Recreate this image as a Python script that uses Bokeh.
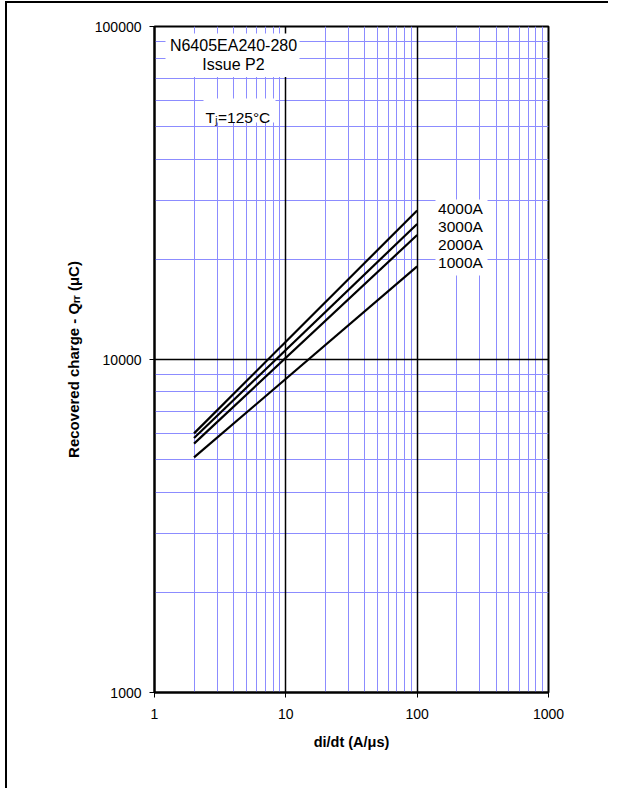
from bokeh.plotting import figure
from bokeh.models import FixedTicker, PrintfTickFormatter, Label, BoxAnnotation, Grid
from bokeh.embed import file_html
from bokeh.resources import INLINE

# ---- data ----
didt = [2, 100]                      # di/dt (A/us)
qrr_1000A = [5080, 19030]            # recovered charge (uC)
qrr_2000A = [5590, 23650]
qrr_3000A = [5810, 25530]
qrr_4000A = [6000, 28020]
series_labels = ["4000A", "3000A", "2000A", "1000A"]
x_ticks = [1, 10, 100, 1000]
y_ticks = [1000, 10000, 100000]

FONT = "Liberation Sans"

# frame in picture pixels; canvas origin placed at (7,3) via the styles below
FX0, FX1, FY0, FY1 = 154, 548, 26, 692
OX, OY = 7, 3

def px_x(px):
    return 10 ** (3 * (px - FX0) / (FX1 - FX0))

def px_y(py):
    return 10 ** (5 - 2 * (py - FY0) / (FY1 - FY0))

W, H = 603, 787
p = figure(width=W, height=H, x_axis_type="log", y_axis_type="log",
           x_range=(1, 1000), y_range=(1000, 100000),
           min_border_left=FX0 - OX, min_border_top=FY0 - OY,
           min_border_right=W - (FX1 - OX), min_border_bottom=H - (FY1 - OY),
           output_backend="svg", toolbar_location=None)
p.styles = {"margin-left": "5px", "margin-top": "1px",
            "border-top": "2px solid black", "border-left": "2px solid black"}

p.outline_line_color = "black"
p.outline_line_width = 2
p.background_fill_color = "white"
p.border_fill_color = "white"

xt = FixedTicker(ticks=x_ticks, minor_ticks=[m * d for d in x_ticks[:-1] for m in range(2, 10)])
yt = FixedTicker(ticks=y_ticks, minor_ticks=[m * d for d in y_ticks[:-1] for m in range(2, 10)])
p.xaxis.ticker = xt
p.yaxis.ticker = yt
for ax in (p.xaxis, p.yaxis):
    ax.formatter = PrintfTickFormatter(format="%d")
    ax.major_label_text_font = FONT
    ax.major_label_text_font_size = "14px"
    ax.major_label_text_color = "black"
    ax.major_tick_out = 5
    ax.major_tick_in = 0
    ax.major_tick_line_color = "black"
    ax.minor_tick_line_color = None
    ax.axis_line_color = "black"
    ax.axis_line_width = 2
    ax.axis_label_text_font = FONT
    ax.axis_label_text_font_style = "bold"
    ax.axis_label_text_color = "black"
p.xaxis.major_label_standoff = 11
p.yaxis.major_label_standoff = 8
p.xaxis.axis_label = "di/dt (A/μs)"
p.xaxis.axis_label_text_font_size = "14.5px"
p.xaxis.axis_label_standoff = 12
p.yaxis.axis_label = "Recovered charge - Qᵣᵣ (μC)"
p.yaxis.axis_label_text_font_size = "15px"
p.yaxis.axis_label_standoff = 10

# minor grid (blue) from default grids
for g in (p.xgrid, p.ygrid):
    g.grid_line_color = None
    g.minor_grid_line_color = "#8c8cff"
    g.minor_grid_line_width = 1
# major grid (black) drawn on top
p.add_layout(Grid(dimension=0, ticker=xt, grid_line_color="black", grid_line_width=1.5))
p.add_layout(Grid(dimension=1, ticker=yt, grid_line_color="black", grid_line_width=1.5))

for ys in (qrr_1000A, qrr_2000A, qrr_3000A, qrr_4000A):
    p.line(didt, ys, line_color="black", line_width=2.2)

# white boxes behind annotation texts
def wbox(l, r, t, b):
    p.add_layout(BoxAnnotation(left=px_x(l), right=px_x(r), top=px_y(t), bottom=px_y(b),
                               fill_color="white", fill_alpha=1.0, line_color=None))

wbox(165, 299, 33, 76.5)
wbox(203, 275, 98, 122)
wbox(435, 487, 199, 275)

def lab(text, px, py, size="15.5px", align="center", baseline="middle", style="normal"):
    p.add_layout(Label(x=px_x(px), y=px_y(py), text=text, text_font=FONT,
                       text_font_size=size, text_align=align, text_baseline=baseline,
                       text_font_style=style, text_color="black"))

lab("N6405EA240-280", 233, 45, size="16px")
lab("Issue P2", 233, 64, size="16px")
lab("T", 205, 116.5, align="left", baseline="alphabetic")
lab("j", 214.7, 119.5, size="10px", align="left", baseline="alphabetic")
lab("=125°C", 217.5, 116.5, align="left", baseline="alphabetic")

for i, t in enumerate(series_labels):
    lab(t, 460, 207.5 + 18 * i)

open("out.html", "w").write(file_html(p, INLINE))
